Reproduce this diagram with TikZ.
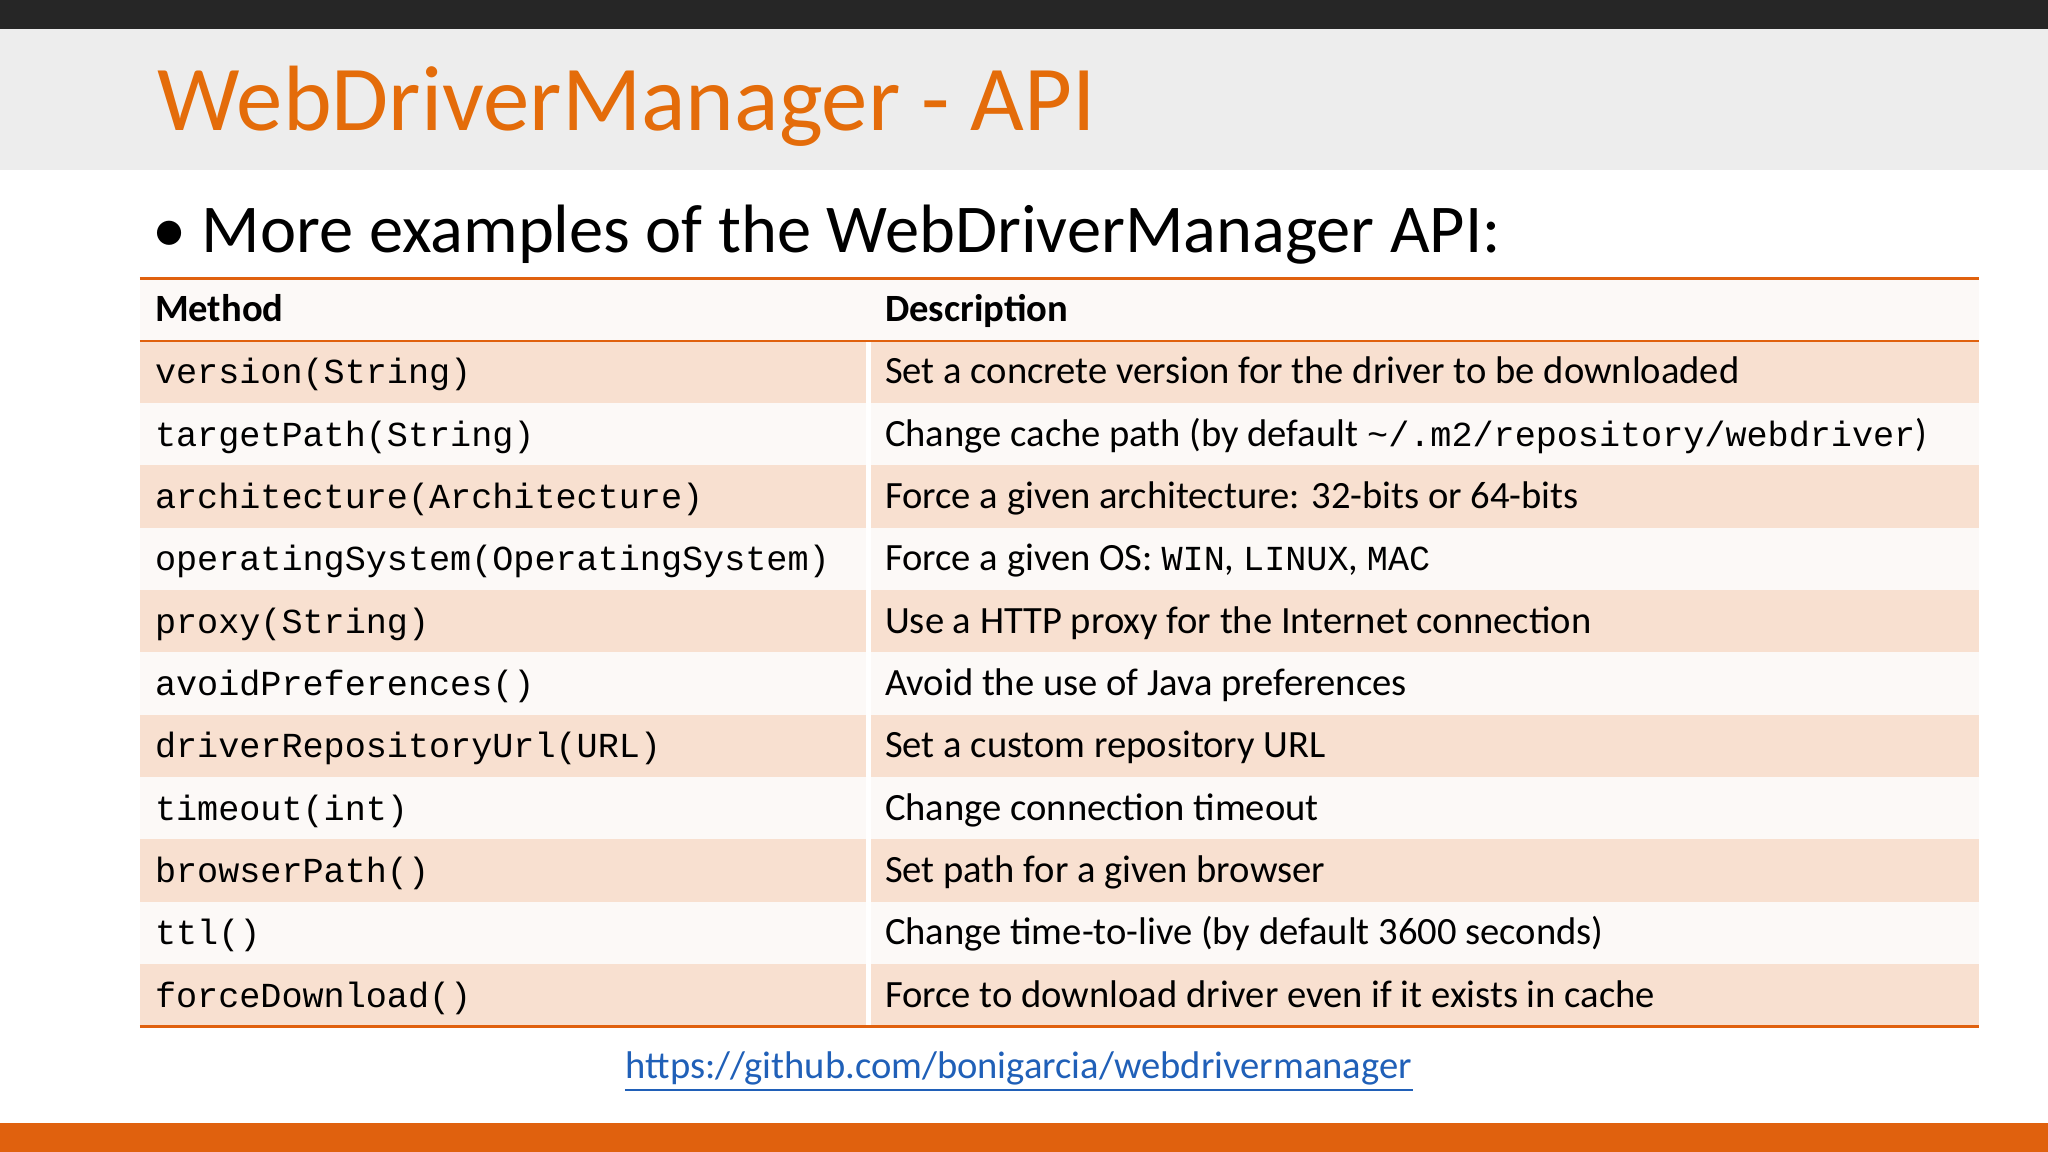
\documentclass[tikz,border=0pt]{standalone}
\usepackage{fontspec}
\setmainfont{Carlito}
\newfontfamily\mono{Liberation Mono}
\definecolor{orng}{HTML}{E0610E}
\definecolor{ttl}{HTML}{E46C0A}
\definecolor{peach}{HTML}{F8E0D0}
\definecolor{pale}{HTML}{FCF9F7}
\definecolor{dark}{HTML}{262626}
\definecolor{lnk}{HTML}{2060B8}
\newcommand{\cd}[1]{{\mono\fontsize{7.65pt}{9pt}\selectfont #1}}
\tikzset{
 cell/.style={anchor=base west,inner sep=0pt,font=\fontsize{8.4pt}{10pt}\selectfont},
 mcell/.style={anchor=base west,inner sep=0pt,font=\mono\fontsize{7.65pt}{9pt}\selectfont},
}
\begin{document}
\begin{tikzpicture}[x=0.01cm,y=-0.01cm]
\useasboundingbox (0,0) rectangle (1568,882);
\fill[white] (0,0) rectangle (1568,882);
\fill[black!7] (0,22) rectangle (1568,130);
\fill[dark] (0,0) rectangle (1568,22);
\fill[orng] (0,860) rectangle (1568,882);
\node[anchor=base west,inner sep=0pt,text=ttl,font=\fontsize{20.2pt}{24pt}\selectfont] (title) at (120,100) {WebDriverManager - API};
\node[anchor=base west,inner sep=0pt,font=\fontsize{14.9pt}{18pt}\selectfont] (bul) at (116,193) {\textbullet\ More examples of the WebDriverManager API:};
\foreach \i in {0,...,10}{
  \pgfmathsetmacro{\ya}{261+47.7*\i}
  \pgfmathsetmacro{\yb}{261+47.7*(\i+1)}
  \pgfmathtruncatemacro{\odd}{mod(\i,2)}
  \ifnum\odd=0 \fill[peach] (107,\ya) rectangle (1515,\yb); \else \fill[pale] (107,\ya) rectangle (1515,\yb); \fi
}
\fill[pale] (107,213) rectangle (1515,261);
\draw[white,line width=1pt] (665,261) -- (665,786);
\draw[orng,line width=0.6pt] (107,213) -- (1515,213);
\draw[orng,line width=0.6pt] (107,261) -- (1515,261);
\draw[orng,line width=0.6pt] (107,786) -- (1515,786);
\node[cell] (h1) at (118,246) {\textbf{Method}};
\node[cell] (h2) at (677,246) {\textbf{Description}};
\foreach \m/\d [count=\k from 0] in {
 version(String)/{Set a concrete version for the driver to be downloaded},
 targetPath(String)/{Change cache path (by default \cd{\textasciitilde/.m2/repository/webdriver})},
 architecture(Architecture)/{Force a given architecture: 32-bits or 64-bits},
 operatingSystem(OperatingSystem)/{Force a given OS: \cd{WIN}, \cd{LINUX}, \cd{MAC}},
 proxy(String)/{Use a HTTP proxy for the Internet connection},
 avoidPreferences()/{Avoid the use of Java preferences},
 driverRepositoryUrl(URL)/{Set a custom repository URL},
 timeout(int)/{Change connection timeout},
 browserPath()/{Set path for a given browser},
 ttl()/{Change time-to-live (by default 3600 seconds)},
 forceDownload()/{Force to download driver even if it exists in cache}}{
  \pgfmathsetmacro{\yy}{261+47.7*\k+33}
  \node[mcell] (m\k) at (118,\yy) {\m};
  \node[cell] (d\k) at (677,\yy) {\d};
}
\node[anchor=base,inner sep=0pt,text=lnk,font=\fontsize{8.4pt}{10pt}\selectfont] (link) at (780,826) {https://github.com/bonigarcia/webdrivermanager};
\draw[lnk,line width=0.5pt] ([yshift=-0.03cm]link.south west) -- ([yshift=-0.03cm]link.south east);
\end{tikzpicture}
\end{document}
